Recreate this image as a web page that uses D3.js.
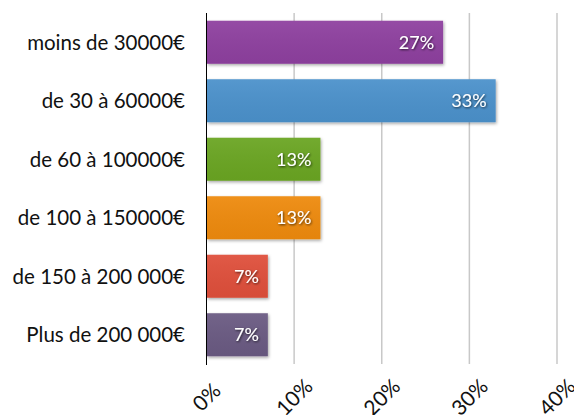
<!DOCTYPE html>
<html>
<head>
<meta charset="utf-8">
<script src="https://cdn.jsdelivr.net/npm/d3@7"></script>
<style>
  html, body { margin: 0; padding: 0; background: #fff; }
  svg { display: block; }
  text { font-family: "Gill Sans", "Gill Sans MT", Lato, "Open Sans", sans-serif; }
</style>
</head>
<body>
<svg id="chart" width="574" height="415"></svg>
<script>
const categories = ["moins de 30000€", "de 30 à 60000€", "de 60 à 100000€", "de 100 à 150000€", "de 150 à 200 000€", "Plus de 200 000€"];
const values = [27, 33, 13, 13, 7, 7];
const colors = ["#8e3f9f", "#4b91cb", "#6aa520", "#ee8a0d", "#df503b", "#6b5a82"];
const tickValues = [0, 10, 20, 30, 40];
const tickLabels = ["0%", "10%", "20%", "30%", "40%"];

const svg = d3.select("#chart");
const margin = { left: 206.5, right: 17, top: 13, bottom: 51 };
const W = 574, H = 415;

const x = d3.scaleLinear().domain([0, 40]).range([margin.left, W - margin.right]);
const y = d3.scaleBand().domain(categories).range([margin.top, H - margin.bottom]).paddingInner(0.265).paddingOuter(0.1325);

const defs = svg.append("defs");
const f = defs.append("filter").attr("id", "shadow").attr("x", "-10%").attr("y", "-20%").attr("width", "130%").attr("height", "150%");
f.append("feDropShadow").attr("dx", 1).attr("dy", 1.5).attr("stdDeviation", 1.5).attr("flood-color", "#000").attr("flood-opacity", 0.35);
const tf = defs.append("filter").attr("id", "tshadow").attr("x", "-20%").attr("y", "-30%").attr("width", "140%").attr("height", "160%");
tf.append("feDropShadow").attr("dx", 0.8).attr("dy", 1).attr("stdDeviation", 1).attr("flood-color", "#000").attr("flood-opacity", 0.7);
const g = defs.append("linearGradient").attr("id", "sheen").attr("x1", 0).attr("y1", 0).attr("x2", 0).attr("y2", 1);
g.append("stop").attr("offset", "0%").attr("stop-color", "#fff").attr("stop-opacity", 0.06);
g.append("stop").attr("offset", "100%").attr("stop-color", "#000").attr("stop-opacity", 0.04);

// gridlines
svg.append("g").selectAll("line").data(tickValues.filter(d => d > 0)).join("line")
  .attr("x1", d => x(d)).attr("x2", d => x(d))
  .attr("y1", margin.top).attr("y2", H - margin.bottom)
  .attr("stroke", "#c8c8c8").attr("stroke-width", 1.5);

// bars
const bars = svg.append("g").selectAll("g").data(categories).join("g");
bars.append("rect")
  .attr("x", x(0) + 0.5).attr("y", d => y(d))
  .attr("width", (d, i) => x(values[i]) - x(0) - 0.5).attr("height", y.bandwidth())
  .attr("fill", (d, i) => colors[i]).attr("filter", "url(#shadow)");
bars.append("rect")
  .attr("x", x(0) + 0.5).attr("y", d => y(d))
  .attr("width", (d, i) => x(values[i]) - x(0) - 0.5).attr("height", y.bandwidth())
  .attr("fill", "url(#sheen)");

// value labels
bars.append("text")
  .attr("x", (d, i) => x(values[i]) - 9)
  .attr("y", d => y(d) + y.bandwidth() / 2)
  .attr("dy", "0.36em")
  .attr("text-anchor", "end")
  .attr("fill", "#fff")
  .attr("font-size", 18)
  .attr("filter", "url(#tshadow)")
  .text((d, i) => values[i] + "%");

// y axis line
svg.append("line").attr("x1", x(0)).attr("x2", x(0)).attr("y1", margin.top).attr("y2", H - margin.bottom + 1)
  .attr("stroke", "#000").attr("stroke-width", 1);

// category labels
svg.append("g").selectAll("text").data(categories).join("text")
  .attr("x", 185).attr("y", d => y(d) + y.bandwidth() / 2).attr("dy", "0.36em")
  .attr("text-anchor", "end").attr("font-size", 20.5).attr("fill", "#111")
  .text(d => d);

// x tick labels
svg.append("g").selectAll("text").data(tickValues).join("text")
  .attr("transform", d => `translate(${x(d)},${397}) rotate(-45)`)
  .attr("text-anchor", "middle").attr("dy", "0.36em")
  .attr("font-size", 21).attr("fill", "#111")
  .text((d, i) => tickLabels[i]);
</script>
</body>
</html>
